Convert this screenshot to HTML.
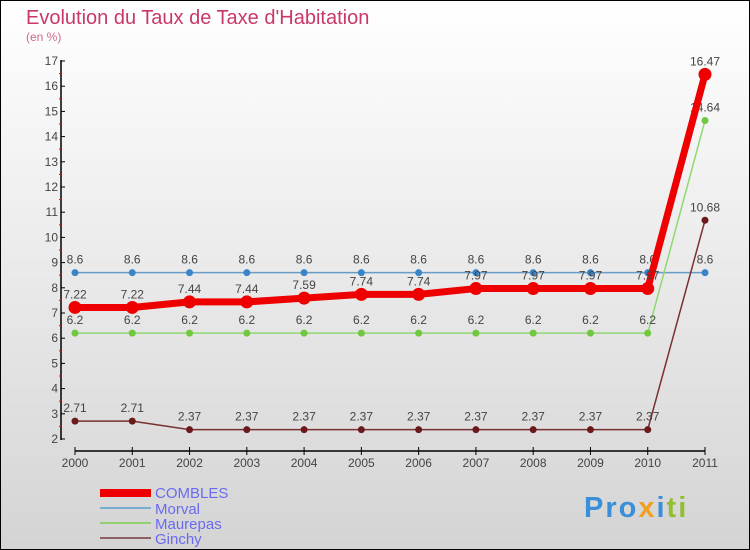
<!DOCTYPE html>
<html><head><meta charset="utf-8"><style>
body{margin:0}
#c{width:750px;height:550px;position:relative;box-sizing:border-box;border:1px solid #000;background:linear-gradient(#ffffff,#d4d4d4);font-family:"Liberation Sans",sans-serif;overflow:hidden}
</style></head><body>
<div id="c">
<svg width="750" height="550" style="position:absolute;left:-1px;top:-1px">
<text x="26" y="24" font-size="20" fill="#c8386a">Evolution du Taux de Taxe d'Habitation</text>
<text x="26" y="41" font-size="12" fill="#d06890">(en %)</text>
<g id="axes"></g>
<g id="series"></g>
<g>
<rect x="100" y="489" width="51" height="8" fill="#ee0000"/>
<text x="155" y="498" font-size="15" fill="#6a6af0">COMBLES</text>
<line x1="100" x2="151" y1="508" y2="508" stroke="#7aaed0" stroke-width="2"/>
<text x="155" y="514" font-size="15" fill="#6a6af0">Morval</text>
<line x1="100" x2="151" y1="523" y2="523" stroke="#90d070" stroke-width="2"/>
<text x="155" y="529" font-size="15" fill="#6a6af0">Maurepas</text>
<line x1="100" x2="151" y1="538" y2="538" stroke="#906060" stroke-width="2"/>
<text x="155" y="544" font-size="15" fill="#6a6af0">Ginchy</text>
</g>
<text x="584" y="517" font-size="29" font-weight="bold" letter-spacing="2"><tspan fill="#3a8fd8">Pro</tspan><tspan fill="#f0a020">x</tspan><tspan fill="#3a8fd8">i</tspan><tspan fill="#90c030">ti</tspan></text>
</svg>
</div>
<script>
const years=["2000","2001","2002","2003","2004","2005","2006","2007","2008","2009","2010","2011"];
const yTicks=[2,3,4,5,6,7,8,9,10,11,12,13,14,15,16,17];
const combles=[7.22,7.22,7.44,7.44,7.59,7.74,7.74,7.97,7.97,7.97,7.97,16.47];
const morval=[8.6,8.6,8.6,8.6,8.6,8.6,8.6,8.6,8.6,8.6,8.6,8.6];
const maurepas=[6.2,6.2,6.2,6.2,6.2,6.2,6.2,6.2,6.2,6.2,6.2,14.64];
const ginchy=[2.71,2.71,2.37,2.37,2.37,2.37,2.37,2.37,2.37,2.37,2.37,10.68];
const NS="http://www.w3.org/2000/svg";
const X=i=>75+i*(630/11);
const Y=v=>439-(v-2)*25.2;
function mk(t,a,p){const e=document.createElementNS(NS,t);for(const k in a)e.setAttribute(k,a[k]);p.appendChild(e);return e;}
const ax=document.getElementById('axes');
let yl=mk('line',{x1:61,x2:61,y1:60,y2:440,stroke:'#000','stroke-width':1.5},ax);


let xl=mk('line',{x1:75,x2:705,y1:451,y2:451,stroke:'#000','stroke-width':1.5},ax);


yTicks.forEach(v=>{
 mk('line',{x1:61,x2:65,y1:Y(v),y2:Y(v),stroke:'#000'},ax);
 if(v<17)mk('line',{x1:59,x2:62,y1:Y(v+0.5),y2:Y(v+0.5),stroke:'#e00'},ax);
 const t=mk('text',{x:58,y:Y(v)+4,'font-size':12,fill:'#444','text-anchor':'end'},ax);t.textContent=v;
 
 
});
years.forEach((y,i)=>{
 mk('line',{x1:X(i),x2:X(i),y1:447,y2:455,stroke:'#000'},ax);
 const t=mk('text',{x:X(i),y:467,'font-size':12,fill:'#444','text-anchor':'middle'},ax);t.textContent=y;
 
 
});
const sg=document.getElementById('series');
function series(vals,name,color,w,r,dot,labs){
 const g=mk('g',{},sg);
 
 
 mk('polyline',{points:vals.map((v,i)=>X(i)+','+Y(v)).join(' '),fill:'none',stroke:color,'stroke-width':w,'stroke-linejoin':'round'},g);
 vals.forEach((v,i)=>{
  const c=mk('circle',{cx:X(i),cy:Y(v),r:r,fill:dot},g);
  
  
  if(labs){const t=mk('text',{x:X(i),y:Y(v)-9,'font-size':12,fill:'#444','text-anchor':'middle'},g);t.textContent=v;}
 });
}
series(morval,'morval','#6a9cc8',1.5,3.5,'#3a84c8',true);
series(maurepas,'maurepas','#90d870',1.5,3.5,'#70c840',true);
series(ginchy,'ginchy','#7a3030',1.5,3.5,'#6a1a1a',true);
series(combles,'combles','#ee0000',7,6.5,'#ee0000',true);
</script>
</body></html>
